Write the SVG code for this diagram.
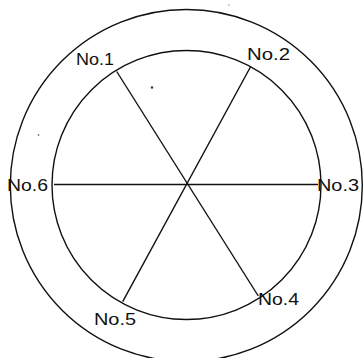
<svg xmlns="http://www.w3.org/2000/svg" width="364" height="358" viewBox="0 0 364 358">
<style>
.c{fill:none;stroke:#111;stroke-width:1.4}
.l{stroke:#111;stroke-width:1.4;fill:none}
.t{font-family:"Liberation Sans",Arial,sans-serif;font-size:16px;fill:#111}
</style>
<rect width="364" height="358" fill="#fff"/>
<g id="outer"><circle class="c" cx="186.3" cy="185.5" r="176"/></g>
<g id="inner"><circle class="c" cx="186.5" cy="185" r="134.5"/></g>
<g id="connectors">
<line class="l" x1="54" y1="184.5" x2="318" y2="184.5"/>
<line class="l" x1="116.7" y1="71.5" x2="258.3" y2="296"/>
<line class="l" x1="250.7" y1="66.5" x2="122.7" y2="301.7"/>
</g>
<g id="n1"><text class="t" x="76" y="65" textLength="38" lengthAdjust="spacingAndGlyphs">No.1</text></g>
<g id="n2"><text class="t" x="247" y="60" textLength="43" lengthAdjust="spacingAndGlyphs">No.2</text></g>
<g id="n3"><text class="t" x="317" y="191" textLength="42" lengthAdjust="spacingAndGlyphs">No.3</text></g>
<g id="n4"><text class="t" x="258" y="305" textLength="41" lengthAdjust="spacingAndGlyphs">No.4</text></g>
<g id="n5"><text class="t" x="94" y="325" textLength="42" lengthAdjust="spacingAndGlyphs">No.5</text></g>
<g id="n6"><text class="t" x="7" y="191" textLength="41" lengthAdjust="spacingAndGlyphs">No.6</text></g>
<g id="specks" fill="#333">
<circle cx="152" cy="87.5" r="1.2"/>
<circle cx="38.5" cy="135" r="0.8"/>
<circle cx="229" cy="5" r="0.6"/>
</g>
</svg>
